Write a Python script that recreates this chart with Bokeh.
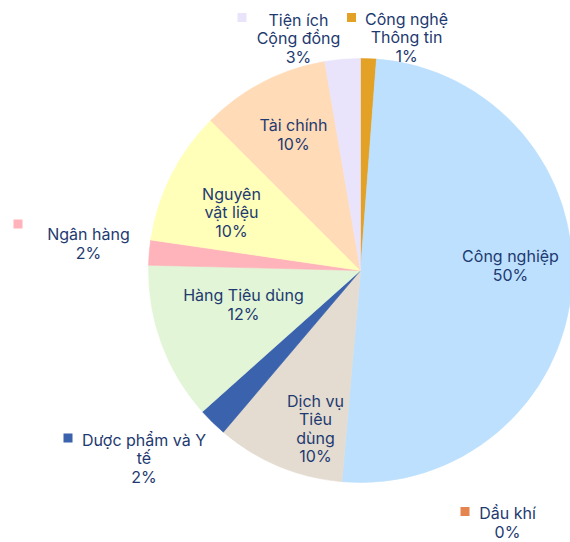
import math
from bokeh.plotting import figure
from bokeh.models import Range1d, ColumnDataSource
from bokeh.core.properties import value
from bokeh.embed import file_html
from bokeh.resources import INLINE

# ---- data ----
categories = ["Công nghệ Thông tin", "Công nghiệp", "Dầu khí", "Dịch vụ Tiêu dùng",
              "Dược phẩm và Y tế", "Hàng Tiêu dùng", "Ngân hàng", "Nguyên vật liệu",
              "Tài chính", "Tiện ích Cộng đồng"]
shares = [1.2, 50.2, 0.0, 9.8, 2.2, 12.0, 1.9, 10.2, 9.8, 2.7]
label_text = ["Công nghệ\nThông tin", "Công nghiệp", "Dầu khí", "Dịch vụ\nTiêu\ndùng",
              "Dược phẩm và Y\ntế", "Hàng Tiêu dùng", "Ngân hàng", "Nguyên\nvật liệu",
              "Tài chính", "Tiện ích\nCộng đồng"]
colors = ["#E3A126", "#BDE0FE", "#E48550", "#E4DCD0", "#3B62AC",
          "#E2F5D7", "#FFB3BA", "#FFFFBA", "#FFDBB8", "#E9E4FB"]

# ---- layout (page pixels) ----
W, H = 570, 542
def to_data(x, y):
    return x, H - y

CX, CY = to_data(360, 270)
R = 212
# label block centers; outside labels get a square key marker
label_pos = {
    "Công nghệ Thông tin": (406, 37, (351, 17)),
    "Công nghiệp": (510, 265, None),
    "Dầu khí": (507, 522, (464.5, 511)),
    "Dịch vụ Tiêu dùng": (315, 428, None),
    "Dược phẩm và Y tế": (143.5, 458, (67.5, 437.5)),
    "Hàng Tiêu dùng": (243, 304, None),
    "Ngân hàng": (88, 243, (17.5, 223.5)),
    "Nguyên vật liệu": (231, 212, None),
    "Tài chính": (293, 134, None),
    "Tiện ích Cộng đồng": (298, 38, (241.5, 17)),
}

total = sum(shares)
starts, ends = [], []
acc = 0.0
for v in shares:
    starts.append(math.pi / 2 - 2 * math.pi * acc / total)
    acc += v
    ends.append(math.pi / 2 - 2 * math.pi * acc / total)

idx = [i for i, v in enumerate(shares) if v > 0]
wsrc = ColumnDataSource(dict(
    x=[CX] * len(idx), y=[CY] * len(idx),
    start=[starts[i] for i in idx], end=[ends[i] for i in idx],
    color=[colors[i] for i in idx]))

p = figure(width=W, height=H, output_backend="svg", toolbar_location=None,
           x_range=Range1d(0, W), y_range=Range1d(0, H),
           x_axis_location=None, y_axis_location=None, min_border=0,
           outline_line_color=None)
p.grid.visible = False
p.background_fill_color = "white"
p.border_fill_color = "white"

p.wedge(x="x", y="y", radius=R, start_angle="start", end_angle="end",
        direction="clock", fill_color="color", line_color="color",
        line_width=0.6, source=wsrc)

tx, ty, tt, mx, my, mc = [], [], [], [], [], []
for i, c in enumerate(categories):
    X, Y, mk = label_pos[c]
    dx, dy = to_data(X, Y)
    tx.append(dx); ty.append(dy)
    tt.append(f"{label_text[i]}\n{round(shares[i])}%")
    if mk is not None:
        a, b = to_data(*mk)
        mx.append(a); my.append(b); mc.append(colors[i])

p.scatter(x=mx, y=my, marker="square", size=9, fill_color=mc, line_color=None)
p.text(x=tx, y=ty, text=tt, text_align="center", text_baseline="middle",
       text_font=value("Inter"), text_font_size="16px", text_color="#1E3A70",
       text_line_height=0.93)

open("out.html", "w").write(file_html(p, INLINE))
